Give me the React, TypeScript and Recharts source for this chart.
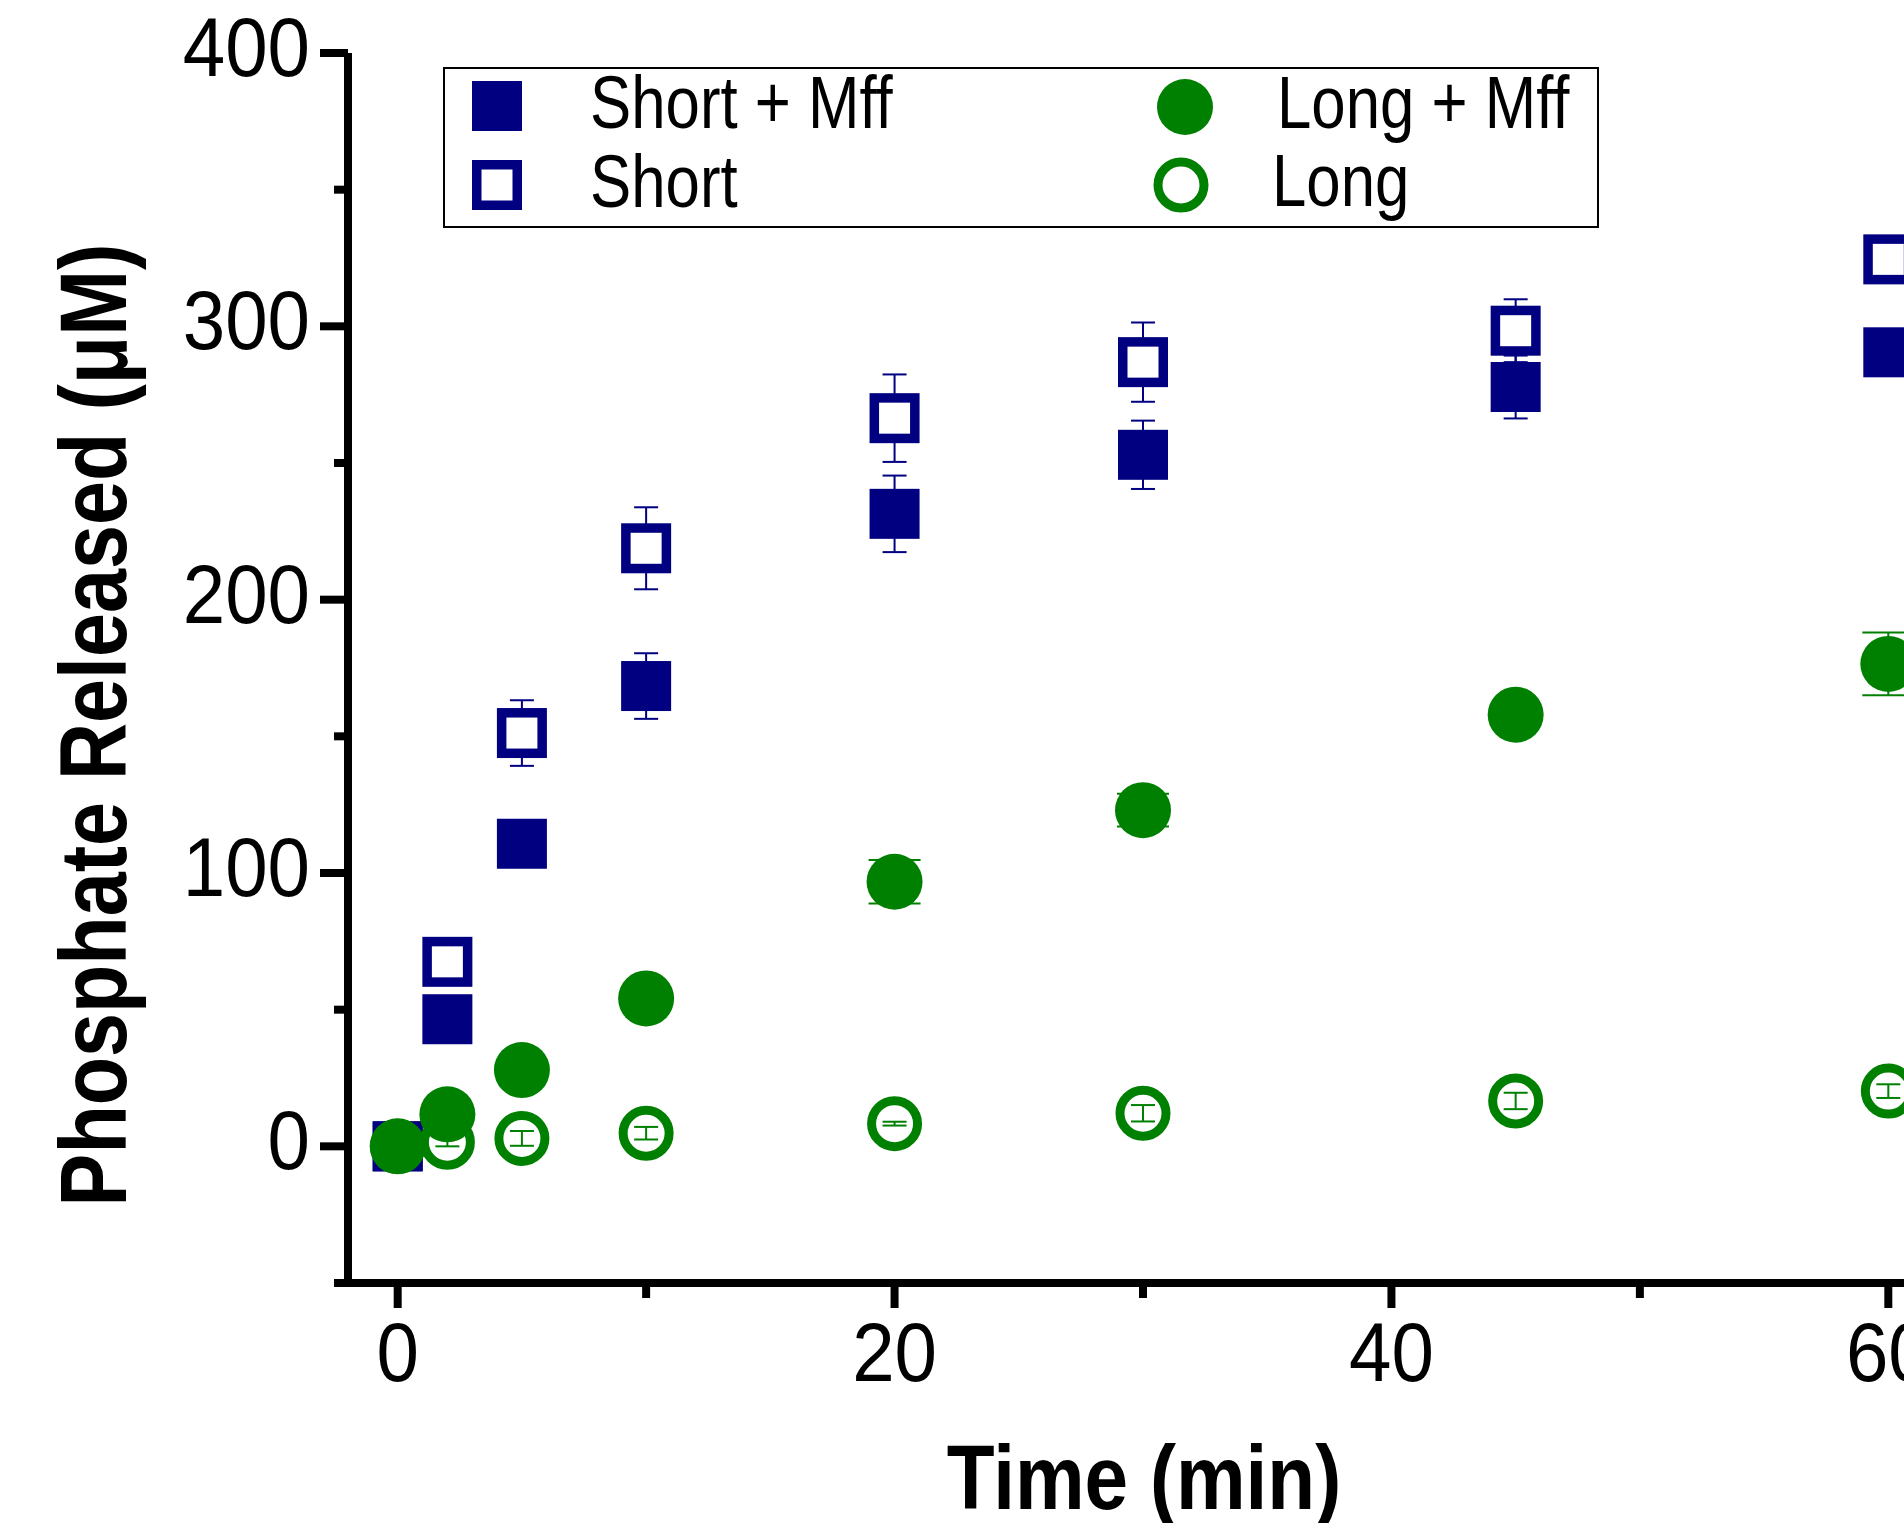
import React from 'react';
import { ScatterChart, Scatter, XAxis, YAxis, ErrorBar, Customized } from 'recharts';

const times = [0, 2, 5, 10, 20, 30, 45, 60];
const shortMffValues = [0, 46.5, 110.7, 168.4, 231.4, 253, 277.8, 290.5];
const shortMffErrors = [0, 1, 2, 12, 14, 12.5, 11.5, 3];
const shortValues = [0, 67.5, 151.2, 218.8, 266.4, 286.9, 298.4, 324.5];
const shortErrors = [0, 2, 12, 15, 16, 14.5, 11.5, 5];
const longMffValues = [0, 11.7, 27.9, 54.1, 96.8, 123, 157.9, 176.5];
const longMffErrors = [0, 1, 2, 2, 8, 6, 3, 11.5];
const longValues = [0, 1.5, 2.9, 4.8, 8.3, 12.1, 16.6, 20.2];
const longErrors = [0, 1.5, 2.7, 2.3, 0.7, 3, 3, 2.5];

const xTicks = [0, 10, 20, 30, 40, 50, 60];
const yTicks = [-50, 0, 50, 100, 150, 200, 250, 300, 350, 400];

const seriesNames = ['Short + Mff', 'Short', 'Long + Mff', 'Long'];
const xTitle = 'Time (min)';
const yTitle = 'Phosphate Released (\u03bcM)';

const NAVY = '#000080';
const GREEN = '#008000';
const FONT = '"Liberation Sans", Arial, Helvetica, sans-serif';

const build = (vals: number[], errs: number[]) =>
  times.map((t, i) => ({ t, v: vals[i], err: errs[i] }));

const shortMffData = build(shortMffValues, shortMffErrors);
const shortData = build(shortValues, shortErrors);
const longMffData = build(longMffValues, longMffErrors);
const longData = build(longValues, longErrors);

const FilledSquare = (p: any) => (
  <rect x={p.cx - 25} y={p.cy - 25} width={50} height={50} fill={NAVY} />
);
const OpenSquare = (p: any) => (
  <rect x={p.cx - 20.25} y={p.cy - 20.25} width={40.5} height={40.5} fill="#fff" stroke={NAVY} strokeWidth={9.5} />
);
const FilledCircle = (p: any) => <circle cx={p.cx} cy={p.cy} r={28} fill={GREEN} />;
const OpenCircle = (p: any) => (
  <circle cx={p.cx} cy={p.cy} r={23} fill="none" stroke={GREEN} strokeWidth={9} />
);

const YTick = (p: any) => {
  const v = p.payload.value;
  const major = v % 100 === 0;
  return (
    <g>
      <line x1={p.x - (major ? 28 : 14)} x2={p.x} y1={p.y} y2={p.y} stroke="#000" strokeWidth={8} />
      {major && (
        <text
          transform={`translate(${p.x - 38},${p.y + 23}) scale(0.93,1.02)`}
          textAnchor="end"
          fontSize={82}
          fontFamily={FONT}
          fill="#000"
        >
          {v}
        </text>
      )}
    </g>
  );
};

const XTick = (p: any) => {
  const v = p.payload.value;
  const major = v % 20 === 0;
  return (
    <g>
      <line x1={p.x} x2={p.x} y1={p.y} y2={p.y + (major ? 25 : 15)} stroke="#000" strokeWidth={8} />
      {major && (
        <text
          transform={`translate(${p.x},${p.y + 98}) scale(0.93,1.02)`}
          textAnchor="middle"
          fontSize={82}
          fontFamily={FONT}
          fill="#000"
        >
          {v}
        </text>
      )}
    </g>
  );
};

const LegendText = ({ x, y, children }: any) => (
  <text transform={`translate(${x},${y}) scale(0.87,1.04)`} fontSize={71} fontFamily={FONT} fill="#000">
    {children}
  </text>
);

const Decorations = () => (
  <g>
    <rect x={444} y={68} width={1154} height={159} fill="#fff" stroke="#000" strokeWidth={2} />
    <rect x={472} y={81} width={50} height={50} fill={NAVY} />
    <rect x={476.75} y={164.75} width={40.5} height={40.5} fill="#fff" stroke={NAVY} strokeWidth={9.5} />
    <circle cx={1185} cy={107} r={28} fill={GREEN} />
    <circle cx={1181} cy={185} r={23} fill="none" stroke={GREEN} strokeWidth={9} />
    <LegendText x={590} y={128}>{seriesNames[0]}</LegendText>
    <LegendText x={590} y={207}>{seriesNames[1]}</LegendText>
    <LegendText x={1277} y={128}>{seriesNames[2]}</LegendText>
    <LegendText x={1272} y={206}>{seriesNames[3]}</LegendText>
    <text
      transform="translate(126,725) rotate(-90) scale(0.86,1.02)"
      textAnchor="middle"
      fontSize={92}
      fontWeight="bold"
      fontFamily={FONT}
      fill="#000"
    >
      {yTitle}
    </text>
    <text
      transform="translate(1144,1509) scale(0.88,1.02)"
      textAnchor="middle"
      fontSize={89}
      fontWeight="bold"
      fontFamily={FONT}
      fill="#000"
    >
      {xTitle}
    </text>
  </g>
);

export default function App() {
  return (
    <div
      style={{
        position: 'absolute',
        left: 0,
        top: 0,
        width: 1904,
        height: 1523,
        overflow: 'hidden',
        background: '#fff',
      }}
    >
      <ScatterChart width={1960} height={1523} margin={{ top: 53, right: 22, bottom: 0, left: 0 }}>
        <XAxis
          type="number"
          dataKey="t"
          domain={[-2, 62]}
          ticks={xTicks}
          interval={0}
          height={240}
          tickSize={0}
          tickMargin={0}
          tickLine={false}
          axisLine={{ stroke: '#000', strokeWidth: 8 }}
          tick={<XTick />}
        />
        <YAxis
          type="number"
          dataKey="v"
          domain={[-50, 400]}
          ticks={yTicks}
          interval={0}
          width={348}
          tickSize={0}
          tickMargin={0}
          tickLine={false}
          axisLine={{ stroke: '#000', strokeWidth: 8 }}
          tick={<YTick />}
        />
        <Customized component={Decorations} />
        <Scatter name={seriesNames[0]} data={shortMffData} shape={FilledSquare} isAnimationActive={false}>
          <ErrorBar dataKey="err" direction="y" width={12} stroke={NAVY} strokeWidth={2} />
        </Scatter>
        <Scatter name={seriesNames[1]} data={shortData} shape={OpenSquare} isAnimationActive={false}>
          <ErrorBar dataKey="err" direction="y" width={12} stroke={NAVY} strokeWidth={2} />
        </Scatter>
        <Scatter name={seriesNames[3]} data={longData} shape={OpenCircle} isAnimationActive={false}>
          <ErrorBar dataKey="err" direction="y" width={12} stroke={GREEN} strokeWidth={2} />
        </Scatter>
        <Scatter name={seriesNames[2]} data={longMffData} shape={FilledCircle} isAnimationActive={false}>
          <ErrorBar dataKey="err" direction="y" width={26} stroke={GREEN} strokeWidth={2} />
        </Scatter>
      </ScatterChart>
    </div>
  );
}
